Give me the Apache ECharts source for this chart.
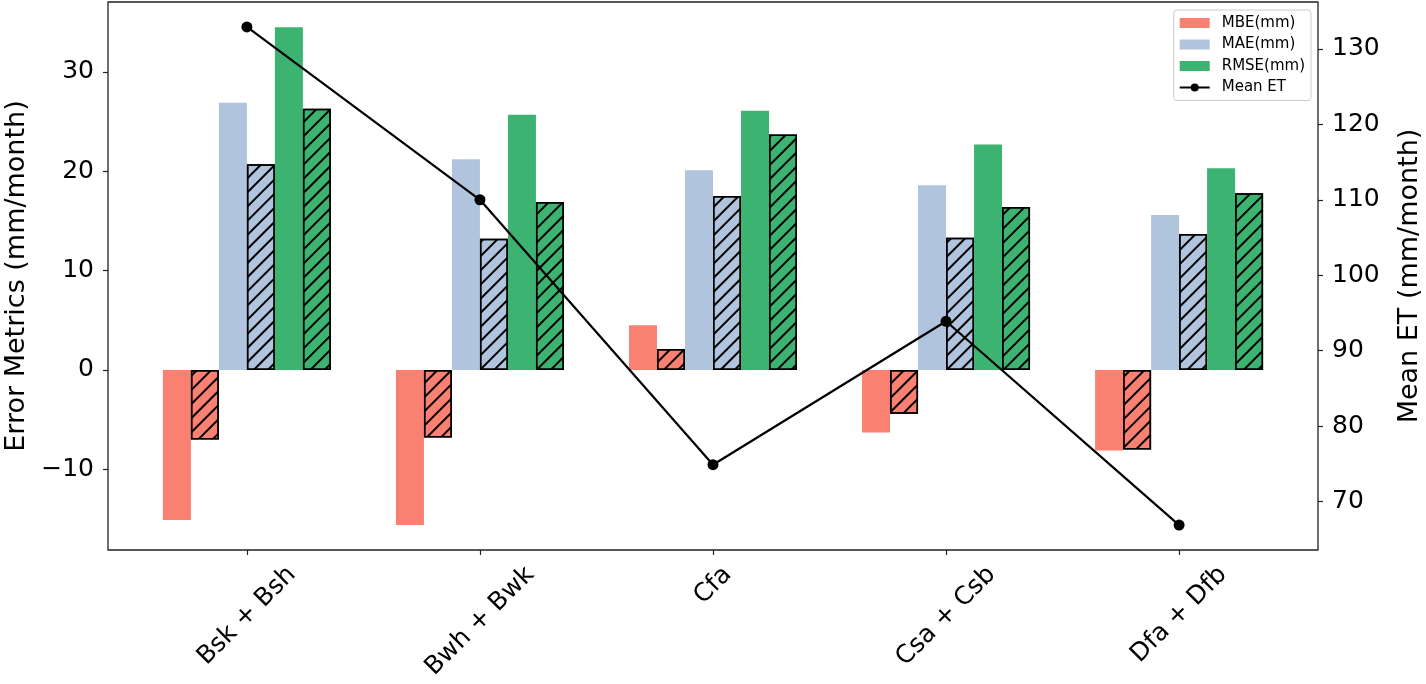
<!DOCTYPE html>
<html lang="en">
<head>
    <meta charset="UTF-8">
    <title>Error metrics by climate zone</title>
    <style type="text/css">
        * { margin: 0; padding: 0; }
        html, body { width: 100%; height: 100%; background: #fff; }
        #main { width: 1426px; height: 684px; }
    </style>
</head>
<body>
<div id="main"></div>
<script src="https://cdn.jsdelivr.net/npm/echarts@6/dist/echarts.min.js"></script>
<script>
    var categories = ['Bsk + Bsh', 'Bwh + Bwk', 'Cfa', 'Csa + Csb', 'Dfa + Dfb'];

    // solid bars and hatched bars
    var mbe = [-15.1, -15.6, 4.5, -6.3, -8.1];
    var mbeHatch = [-7.0, -6.8, 2.1, -4.4, -8.0];
    var mae = [26.9, 21.2, 20.1, 18.6, 15.6];
    var maeHatch = [20.7, 13.2, 17.5, 13.3, 13.7];
    var rmse = [34.5, 25.7, 26.1, 22.7, 20.3];
    var rmseHatch = [26.3, 16.9, 23.7, 16.4, 17.8];
    var meanET = [132.9, 110.0, 74.9, 93.9, 66.9];

    var leftTicks = [-10, 0, 10, 20, 30];
    var rightTicks = [70, 80, 90, 100, 110, 120, 130];
    var catTicks = [0, 1, 2, 3, 4];

    var colors = { mbe: '#FA8072', mae: '#B0C4DE', rmse: '#3CB371' };
    var font = 'DejaVu Sans';

    function xy(arr) {
        return arr.map(function (v, i) { return [i, v]; });
    }

    var hatch = {
        symbol: 'rect',
        symbolSize: 1,
        color: '#000',
        dashArrayX: [1, 0],
        dashArrayY: [1.3, 7.6],
        rotation: -Math.PI / 4
    };

    function solid(name, data, color) {
        return {
            name: name, type: 'bar', data: xy(data),
            barWidth: 28, barGap: '0%',
            itemStyle: { color: color }
        };
    }
    function hatched(name, data, color) {
        return {
            name: name, type: 'bar', data: xy(data),
            barWidth: 28, barGap: '0%',
            itemStyle: { color: color, borderColor: '#000', borderWidth: 1.5, decal: hatch }
        };
    }

    // matplotlib centres rotated labels on the tick; emulate it with padding per label
    var ctx = document.createElement('canvas').getContext('2d');
    ctx.font = '25px "' + font + '"';
    var widths = categories.map(function (c) { return ctx.measureText(c).width; });
    var minW = Math.min.apply(null, widths);
    var rich = {};
    categories.forEach(function (c, i) {
        var p = (widths[i] - minW) / 2;
        rich['l' + i] = { fontSize: 25, fontFamily: font, color: '#000', padding: [p, p, 0, 0] };
    });

    var tickStyle = { color: '#222', width: 1.2 };

    var myChart = echarts.init(document.getElementById('main'));

    var option = {
        animation: false,
        textStyle: { fontFamily: font },
        grid: {
            left: 108, right: 108, top: 2, bottom: 134,
            show: true, borderColor: '#222', borderWidth: 1.3,
            containLabel: false, outerBoundsMode: 'none'
        },
        legend: {
            orient: 'vertical',
            right: 115, top: 10,
            itemWidth: 30, itemHeight: 10, itemGap: 5.5,
            padding: [5, 6, 5, 5],
            borderColor: '#ccc', borderWidth: 1, borderRadius: 3,
            backgroundColor: 'rgba(255,255,255,0.8)',
            textStyle: { fontSize: 15, color: '#000', fontFamily: font, lineHeight: 16, padding: [0, 0, 0, 7] },
            data: [
                { name: 'MBE(mm)', icon: 'rect' },
                { name: 'MAE(mm)', icon: 'rect' },
                { name: 'RMSE(mm)', icon: 'rect' },
                { name: 'Mean ET' }
            ]
        },
        xAxis: {
            type: 'value',
            min: -0.596, max: 4.596,
            axisLine: { show: false, onZero: false },
            splitLine: { show: false },
            axisTick: { show: true, customValues: catTicks, length: 5, lineStyle: tickStyle },
            axisLabel: {
                customValues: catTicks,
                rotate: 45,
                align: 'center',
                verticalAlign: 'middle',
                margin: 35.5,
                rich: rich,
                formatter: function (v) {
                    var i = Math.round(v);
                    return '{l' + i + '|' + categories[i] + '}';
                }
            }
        },
        yAxis: [{
            type: 'value',
            position: 'left',
            min: -18.12, max: 37.04,
            name: 'Error Metrics (mm/month)',
            nameLocation: 'middle', nameRotate: 90, nameGap: 66,
            nameTextStyle: { fontSize: 27, color: '#000', fontFamily: font },
            axisLine: { show: false, onZero: false },
            splitLine: { show: false },
            axisTick: { show: true, customValues: leftTicks, length: 5, lineStyle: tickStyle },
            axisLabel: {
                customValues: leftTicks, margin: 14, fontSize: 25, color: '#000', fontFamily: font,
                formatter: function (v) { return v < 0 ? '\u2212' + Math.abs(v) : String(v); }
            }
        }, {
            type: 'value',
            position: 'right',
            min: 63.6, max: 136.2,
            name: 'Mean ET (mm/month)',
            nameLocation: 'middle', nameRotate: 90, nameGap: 78,
            nameTextStyle: { fontSize: 27, color: '#000', fontFamily: font },
            axisLine: { show: false, onZero: false },
            splitLine: { show: false },
            axisTick: { show: true, customValues: rightTicks, length: 5, lineStyle: tickStyle },
            axisLabel: { customValues: rightTicks, margin: 14, fontSize: 25, color: '#000', fontFamily: font }
        }],
        series: [
            solid('MBE(mm)', mbe, colors.mbe),
            hatched('MBE hatched', mbeHatch, colors.mbe),
            solid('MAE(mm)', mae, colors.mae),
            hatched('MAE hatched', maeHatch, colors.mae),
            solid('RMSE(mm)', rmse, colors.rmse),
            hatched('RMSE hatched', rmseHatch, colors.rmse),
            {
                name: 'Mean ET', type: 'line', yAxisIndex: 1, data: xy(meanET),
                symbol: 'circle', symbolSize: 11, z: 5,
                lineStyle: { color: '#000', width: 2.2 },
                itemStyle: { color: '#000' }
            }
        ]
    };

    myChart.setOption(option);
</script>
</body>
</html>
